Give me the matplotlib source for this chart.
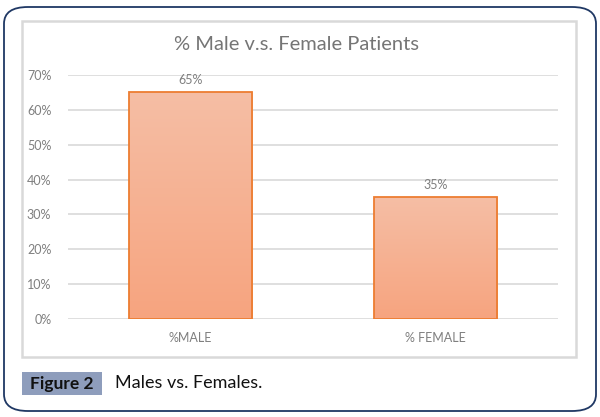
import numpy as np
import matplotlib.pyplot as plt
from matplotlib.patches import FancyBboxPatch, Rectangle
from matplotlib.colors import LinearSegmentedColormap

plt.rcParams['font.family'] = ['Lato', 'DejaVu Sans']

categories = ['%MALE', '% FEMALE']
values = [0.65, 0.35]
labels = ['65%', '35%']

W, H = 600, 417
fig = plt.figure(figsize=(6, 4.17), dpi=100)

# outer rounded frame
fig.patches.append(FancyBboxPatch((4 / W, 6 / H), 592 / W, 404 / H,
                                  boxstyle='round,pad=0,rounding_size=0.04',
                                  transform=fig.transFigure, fill=False,
                                  edgecolor='#1f3864', linewidth=1.3))
# inner chart box
fig.patches.append(Rectangle((22 / W, 1 - 357 / H), 554 / W, 336 / H,
                             transform=fig.transFigure, fill=False,
                             edgecolor='#d9d9d9', linewidth=1.8))

ax = fig.add_axes([68 / W, 1 - 319 / H, 490 / W, 244 / H])
x = np.arange(len(categories))
bars = ax.bar(x, values, width=0.506, color='none', edgecolor='#ed7d31',
              linewidth=1.3, zorder=3)

cmap = LinearSegmentedColormap.from_list('grad', ['#f7a47f', '#f5bea5'])
grad = np.linspace(0, 1, 256).reshape(-1, 1)
for b in bars:
    im = ax.imshow(grad, cmap=cmap, aspect='auto', origin='lower',
                   extent=(b.get_x(), b.get_x() + b.get_width(), 0, b.get_height()),
                   zorder=2)
    im.set_clip_path(b)

for xi, v, lab in zip(x, values, labels):
    ax.text(xi, v + 0.018, lab, ha='center', va='bottom', fontsize=9, color='#7f7f7f')

ax.set_xlim(-0.5, 1.5)
ax.set_ylim(0, 0.7)
ax.set_yticks(np.arange(0, 0.71, 0.1))
ax.set_yticklabels([f'{int(round(t * 100))}%' for t in np.arange(0, 0.71, 0.1)])
ax.set_xticks(x)
ax.set_xticklabels(categories)
ax.tick_params(length=0, labelsize=9, colors='#7f7f7f')
ax.tick_params(axis='y', pad=12)
ax.tick_params(axis='x', pad=9)
ax.grid(axis='y', color='#d9d9d9', linewidth=1.2, zorder=0)
for s in ax.spines.values():
    s.set_visible(False)

fig.text(296 / W, 1 - 45 / H, '% Male v.s. Female Patients', ha='center', va='center',
         fontsize=14.5, color='#757575')

# caption
fig.patches.append(Rectangle((22 / W, 1 - 395 / H), 80 / W, 23 / H,
                             transform=fig.transFigure, facecolor='#8e9dbc',
                             edgecolor='none'))
fig.text(62 / W, 1 - 383.5 / H, 'Figure 2', ha='center', va='center',
         fontsize=12.5, fontweight='bold', color='#111111')
fig.text(115 / W, 1 - 383.5 / H, 'Males vs. Females.', ha='left', va='center',
         fontsize=13, color='#111111')

fig.savefig('out.png', dpi=100)
